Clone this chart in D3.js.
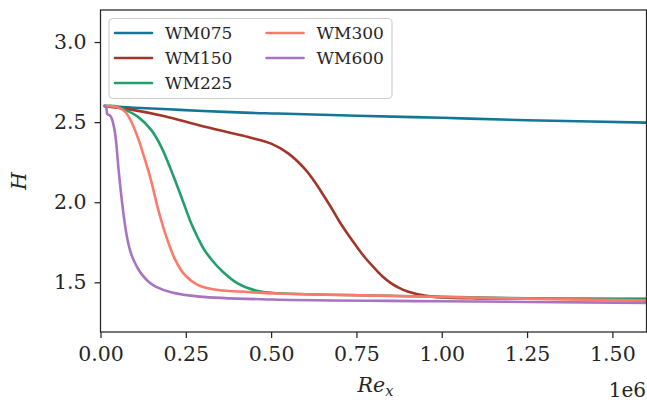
<!DOCTYPE html>
<html lang="en">
<head>
<meta charset="UTF-8">
<title>H vs Re_x</title>
<script src="https://d3js.org/d3.v7.min.js"></script>
<style>
  body { margin: 0; background: #fff; }
  svg text { font-family: "DejaVu Serif", serif; fill: #262626; }
</style>
</head>
<body>
<script type="text/javascript">
// series names + colours
var seriesNames = ["WM075", "WM150", "WM225", "WM300", "WM600"];
var seriesColors = ["#127797", "#a3352a", "#22a06b", "#fb7a69", "#a873c1"];

var wm075 = [[0.0125,2.6],[0.1,2.59],[0.2,2.58],[0.3,2.57],[0.44,2.558],[0.52,2.554],[0.75,2.54],[1.0,2.527],[1.25,2.512],[1.6,2.497]];
var wm150 = [[0.0125,2.6],[0.09,2.578],[0.188,2.537],[0.286,2.482],[0.383,2.432],[0.44,2.403],[0.5,2.366],[0.55,2.305],[0.6,2.205],[0.625,2.135],[0.65,2.055],[0.675,1.97],[0.7,1.88],[0.725,1.8],[0.75,1.725],[0.775,1.655],[0.8,1.595],[0.825,1.54],[0.85,1.497],[0.875,1.465],[0.9,1.443],[0.95,1.417],[1.0,1.406],[1.1,1.4],[1.6,1.397]];
var wm225 = [[0.0125,2.6],[0.04,2.6],[0.071,2.577],[0.11,2.533],[0.149,2.45],[0.178,2.346],[0.207,2.2],[0.237,2.033],[0.266,1.867],[0.285,1.78],[0.305,1.7],[0.33,1.63],[0.354,1.575],[0.403,1.492],[0.461,1.446],[0.52,1.432],[0.87,1.415],[1.2,1.402],[1.6,1.392]];
var wm300 = [[0.0125,2.6],[0.03,2.6],[0.05,2.592],[0.071,2.567],[0.09,2.504],[0.11,2.4],[0.129,2.275],[0.149,2.129],[0.168,1.963],[0.188,1.817],[0.217,1.65],[0.247,1.546],[0.286,1.483],[0.344,1.452],[0.432,1.44],[0.52,1.43],[0.87,1.415],[1.2,1.4],[1.6,1.386]];
var wm600 = [[0.012,2.603],[0.017,2.59],[0.02,2.55],[0.025,2.545],[0.03,2.535],[0.035,2.51],[0.042,2.44],[0.047,2.35],[0.051,2.25],[0.056,2.14],[0.061,2.04],[0.066,1.95],[0.071,1.87],[0.077,1.79],[0.084,1.72],[0.092,1.665],[0.1,1.625],[0.11,1.585],[0.12,1.553],[0.14,1.505],[0.16,1.475],[0.21,1.436],[0.29,1.411],[0.5,1.393],[1.0,1.382],[1.6,1.372]];
var seriesData = [wm075, wm150, wm225, wm300, wm600];

var xTicks = [0, 0.25, 0.5, 0.75, 1.0, 1.25, 1.5];
var yTicks = [1.5, 2.0, 2.5, 3.0];

var totalW = 647, totalH = 404;
var margin = {top: 10, left: 100.5, right: 0.5, bottom: 72};
var width = totalW - margin.left - margin.right;
var height = totalH - margin.top - margin.bottom;

var x = d3.scaleLinear().domain([0, 1.6]).range([0, width]);
var y = d3.scaleLinear().domain([1.19, 3.2]).range([height, 0]);

var svg = d3.select("body").append("svg")
    .attr("width", totalW)
    .attr("height", totalH);

var chart = svg.append("g")
    .attr("transform", "translate(" + margin.left + "," + margin.top + ")");

chart.append("clipPath").attr("id", "clip")
    .append("rect").attr("width", width).attr("height", height);

// curves
var line = d3.line()
    .x(function(d) { return x(d[0]); })
    .y(function(d) { return y(d[1]); })
    .curve(d3.curveCatmullRom.alpha(0.5));

chart.append("g").attr("clip-path", "url(#clip)")
    .selectAll("path")
    .data(seriesData)
    .enter()
    .append("path")
    .attr("d", line)
    .attr("fill", "none")
    .attr("stroke", function(d, i) { return seriesColors[i]; })
    .attr("stroke-width", 2.6)
    .attr("stroke-linejoin", "round")
    .attr("stroke-linecap", "round");

// axes
var xAxis = d3.axisBottom(x).tickValues(xTicks).tickSize(6).tickPadding(8)
    .tickFormat(d3.format(".2f"));
var yAxis = d3.axisLeft(y).tickValues(yTicks).tickSize(6).tickPadding(8)
    .tickFormat(d3.format(".1f"));

var gx = chart.append("g")
    .attr("transform", "translate(0," + height + ")")
    .call(xAxis);
var gy = chart.append("g").call(yAxis);

[gx, gy].forEach(function(g) {
    g.select(".domain").remove();
    g.selectAll(".tick line").attr("stroke", "#262626").attr("stroke-width", 1.25);
    g.selectAll(".tick text").style("font-size", "20.5px").attr("fill", "#262626");
});

// frame
chart.append("rect")
    .attr("width", width)
    .attr("height", height)
    .attr("fill", "none")
    .attr("stroke", "#262626")
    .attr("stroke-width", 1.25);

// labels
svg.append("text")
    .attr("x", margin.left + x(0.8) + 2)
    .attr("y", 392)
    .attr("text-anchor", "middle")
    .style("font-size", "20.5px")
    .style("font-style", "italic")
    .html('Re<tspan dy="4" font-size="14.5px">x</tspan>');

svg.append("text")
    .attr("transform", "translate(26," + (margin.top + height / 2 + 10) + ") rotate(-90)")
    .attr("text-anchor", "middle")
    .style("font-size", "20.5px")
    .style("font-style", "italic")
    .text("H");

svg.append("text")
    .attr("x", 646)
    .attr("y", 397)
    .attr("text-anchor", "end")
    .style("font-size", "20px")
    .text("1e6");

// legend
var legend = svg.append("g").attr("transform", "translate(109,18.5)");
legend.append("rect")
    .attr("width", 283)
    .attr("height", 80)
    .attr("rx", 4)
    .attr("fill", "#fff")
    .attr("fill-opacity", 0.8)
    .attr("stroke", "#d0d0d0")
    .attr("stroke-width", 1.2);

var legendPos = [[0, 0], [0, 1], [0, 2], [1, 0], [1, 1]];
var items = legend.selectAll(".item")
    .data(seriesNames)
    .enter()
    .append("g")
    .attr("class", "item")
    .attr("transform", function(d, i) {
        return "translate(" + (6 + legendPos[i][0] * 151.5) + "," + (14.5 + legendPos[i][1] * 25) + ")";
    });
items.append("line")
    .attr("x1", 0).attr("x2", 37)
    .attr("stroke", function(d, i) { return seriesColors[i]; })
    .attr("stroke-width", 2.6)
    .attr("stroke-linecap", "round");
items.append("text")
    .attr("x", 50)
    .attr("y", 6)
    .style("font-size", "17px")
    .text(function(d) { return d; });
</script>
</body>
</html>
